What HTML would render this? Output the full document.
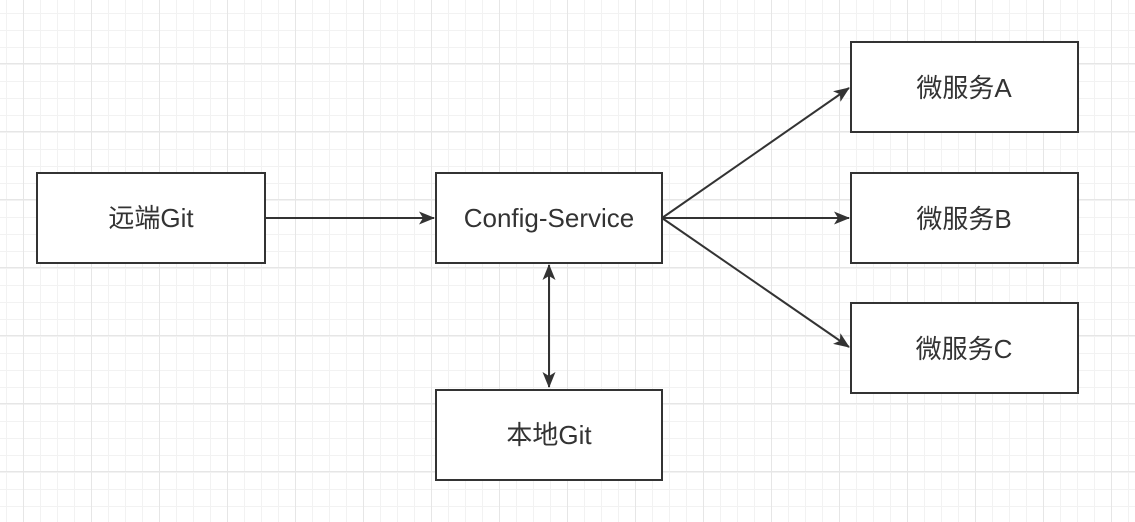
<!DOCTYPE html>
<html><head><meta charset="utf-8"><style>
html,body{margin:0;padding:0;background:#fff}
svg{display:block}
text{font-family:"Liberation Sans","Noto Sans CJK SC",sans-serif;font-size:26px;fill:#333}
</style></head><body>
<svg width="1135" height="522" xmlns="http://www.w3.org/2000/svg">
<defs>
<pattern id="g" x="6" y="-4" width="17" height="17" patternUnits="userSpaceOnUse">
<path d="M0.5 0V17M0 0.5H17" stroke="#f2f2f2" stroke-width="1" fill="none"/>
</pattern>
<pattern id="G" x="23" y="-5" width="68" height="68" patternUnits="userSpaceOnUse">
<path d="M0.5 0V68M0 0.5H68" stroke="#e6e6e6" stroke-width="1" fill="none"/>
</pattern>
<marker id="a" markerWidth="16" markerHeight="13" refX="15" refY="6.5" orient="auto" markerUnits="userSpaceOnUse">
<path d="M0 0L16 6.5L0 13L4 6.5Z" fill="#333"/>
</marker>
<marker id="s" markerWidth="16" markerHeight="13" refX="1" refY="6.5" orient="auto" markerUnits="userSpaceOnUse">
<path d="M16 0L0 6.5L16 13L12 6.5Z" fill="#333"/>
</marker>
</defs>
<rect width="1135" height="522" fill="url(#g)"/>
<rect width="1135" height="522" fill="url(#G)"/>
<g stroke="#333" stroke-width="2" fill="#fff">
<rect x="37" y="173" width="228" height="90"/>
<rect x="436" y="173" width="226" height="90"/>
<rect x="436" y="390" width="226" height="90"/>
<rect x="851" y="42" width="227" height="90"/>
<rect x="851" y="173" width="227" height="90"/>
<rect x="851" y="303" width="227" height="90"/>
</g>
<g stroke="#333" stroke-width="2" fill="none">
<line x1="265" y1="218" x2="434" y2="218" marker-end="url(#a)"/>
<line x1="662" y1="218" x2="849" y2="88" marker-end="url(#a)"/>
<line x1="662" y1="218" x2="849" y2="218" marker-end="url(#a)"/>
<line x1="662" y1="218" x2="849" y2="347" marker-end="url(#a)"/>
<line x1="549" y1="265" x2="549" y2="387" marker-start="url(#s)" marker-end="url(#a)"/>
</g>
<g text-anchor="middle">
<text x="151" y="227">远端Git</text>
<text x="549" y="227">Config-Service</text>
<text x="549" y="444">本地Git</text>
<text x="964" y="97">微服务A</text>
<text x="964" y="228">微服务B</text>
<text x="964" y="358">微服务C</text>
</g>
</svg>
</body></html>
